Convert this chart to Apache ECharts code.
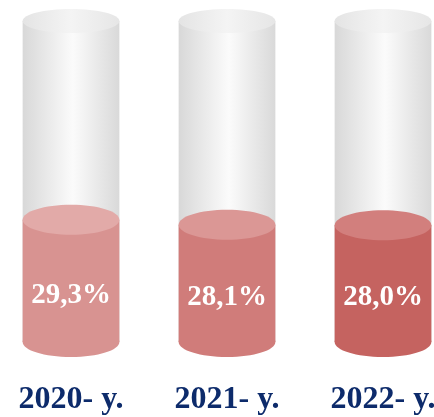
<!DOCTYPE html>
<html>
<head>
<meta charset="utf-8">
<script src="https://cdn.jsdelivr.net/npm/echarts@6/dist/echarts.min.js"></script>
<style>html,body{margin:0;padding:0;background:#fff;}#c{width:434px;height:417px;}</style>
</head>
<body>
<div id="c"></div>
<script>
const categories = ['2020- y.', '2021- y.', '2022- y.'];
const shares = [29.3, 28.1, 28.0];
const valueLabels = ['29,3%', '28,1%', '28,0%'];
const axisMax = 77;
const bodyColors = ['#D89391', '#D07C7A', '#C56360'];
const topColors = ['#E2AAA8', '#DB9795', '#D27F7D'];

const chart = echarts.init(document.getElementById('c'), null, {renderer: 'canvas'});

function cylinder(params, api, isTrack) {
  const idx = params.dataIndex;
  const x = api.value(0);
  const v = api.value(1);
  const top = api.coord([x, v]);
  const base = api.coord([x, 0]);
  const w = api.size([1, 0])[0] * 0.62;
  const cx = top[0];
  const rx = w / 2;
  const children = [];
  if (isTrack) {
    const ry = 12;
    const grad = new echarts.graphic.LinearGradient(0, 0, 1, 0, [
      {offset: 0, color: '#D8D8D8'},
      {offset: 0.52, color: '#FBFBFB'},
      {offset: 1, color: '#D9D9D9'}
    ]);
    children.push({type: 'rect', shape: {x: cx - rx, y: top[1], width: w, height: base[1] - top[1]}, style: {fill: grad}});
    children.push({type: 'ellipse', shape: {cx: cx, cy: top[1], rx: rx, ry: ry}, style: {fill: new echarts.graphic.LinearGradient(0, 0, 1, 0, [
      {offset: 0, color: '#E4E4E4'}, {offset: 0.5, color: '#F4F4F4'}, {offset: 1, color: '#E6E6E6'}])}});
  } else {
    const ry = 15;
    children.push({type: 'ellipse', shape: {cx: cx, cy: base[1], rx: rx, ry: ry}, style: {fill: bodyColors[idx]}});
    children.push({type: 'rect', shape: {x: cx - rx, y: top[1], width: w, height: base[1] - top[1]}, style: {fill: bodyColors[idx]}});
    children.push({type: 'ellipse', shape: {cx: cx, cy: top[1], rx: rx, ry: ry}, style: {fill: topColors[idx]}});
    const lp = api.coord([x, v * 0.38]);
    children.push({type: 'text', style: {text: valueLabels[idx], x: cx, y: lp[1], fill: '#FFFFFF', font: 'bold 29px "Liberation Serif", "Times New Roman", serif', align: 'center', verticalAlign: 'middle'}});
  }
  return {type: 'group', children: children};
}

chart.setOption({
  animation: false,
  grid: {left: -7, right: -27, top: 21, bottom: 75, outerBoundsMode: 'none', containLabel: false},
  xAxis: {
    type: 'category',
    data: categories,
    axisLine: {show: false},
    axisTick: {show: false},
    axisLabel: {
      margin: 42,
      color: '#0D2B6B',
      fontSize: 32,
      fontWeight: 'bold',
      fontFamily: '"Liberation Serif", "Times New Roman", serif'
    }
  },
  yAxis: {type: 'value', min: 0, max: axisMax, show: false, splitLine: {show: false}},
  series: [
    {
      type: 'custom',
      renderItem: (p, a) => cylinder(p, a, true),
      data: categories.map((c, i) => [i, axisMax]),
      encode: {x: 0, y: 1},
      z: 1
    },
    {
      type: 'custom',
      renderItem: (p, a) => cylinder(p, a, false),
      data: shares.map((v, i) => [i, v]),
      encode: {x: 0, y: 1},
      z: 2
    }
  ]
});
</script>
</body>
</html>
